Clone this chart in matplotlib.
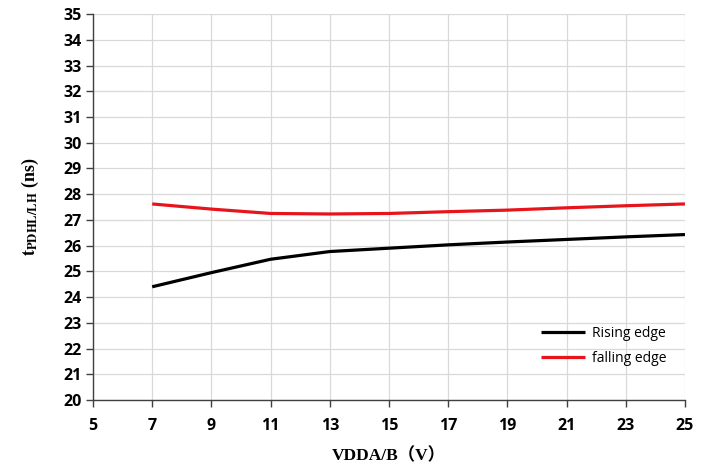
import matplotlib as mpl
import matplotlib.pyplot as plt

mpl.rcParams.update({
    "font.family": "Open Sans",
    "mathtext.fontset": "stix",
})

vdd = [7, 9, 11, 13, 15, 17, 19, 21, 23, 25]
rising = [24.40, 24.95, 25.47, 25.77, 25.90, 26.03, 26.14, 26.24, 26.34, 26.43]
falling = [27.62, 27.42, 27.25, 27.23, 27.25, 27.32, 27.38, 27.47, 27.55, 27.62]
x_ticks = list(range(5, 26, 2))
y_ticks = list(range(20, 36))

fig = plt.figure(figsize=(7.12, 4.70), dpi=100)
ax = fig.add_axes([0.1306, 0.149, 0.8314, 0.821])

ax.plot(vdd, rising, color="black", lw=2.3, label="Rising edge", solid_capstyle="butt")
ax.plot(vdd, falling, color="#e8141c", lw=2.3, label="falling edge", solid_capstyle="butt")

ax.set_xlim(5, 25)
ax.set_ylim(20, 35)
ax.set_xticks(x_ticks)
ax.set_yticks(y_ticks)
ax.grid(True, color="#d9d9d9", lw=0.9)
ax.set_axisbelow(True)

for s in ("top", "right"):
    ax.spines[s].set_visible(False)
for s in ("left", "bottom"):
    ax.spines[s].set_color("#404040")
    ax.spines[s].set_linewidth(1.0)

ax.tick_params(axis="both", direction="out", length=5, width=1.0, color="#404040",
               labelsize=11.5, pad=3)
ax.tick_params(axis="x", pad=8)
for lab in ax.get_xticklabels() + ax.get_yticklabels():
    lab.set_fontweight("bold")

ax.set_xlabel("VDDA/B（V）", family=["Liberation Serif", "Noto Sans CJK SC"],
              fontweight="bold", fontsize=12.5, labelpad=10)
ax.set_ylabel(r"$\mathbf{t}_{\mathbf{PDHL/LH}}$ (ns)", family="Liberation Serif",
              fontweight="bold", fontsize=13, labelpad=16)

ax.legend(loc="lower right", bbox_to_anchor=(0.99, 0.055), frameon=False,
          fontsize=10, handlelength=3.2, handletextpad=0.5, labelspacing=0.75)

fig.savefig("out.png", dpi=100)
